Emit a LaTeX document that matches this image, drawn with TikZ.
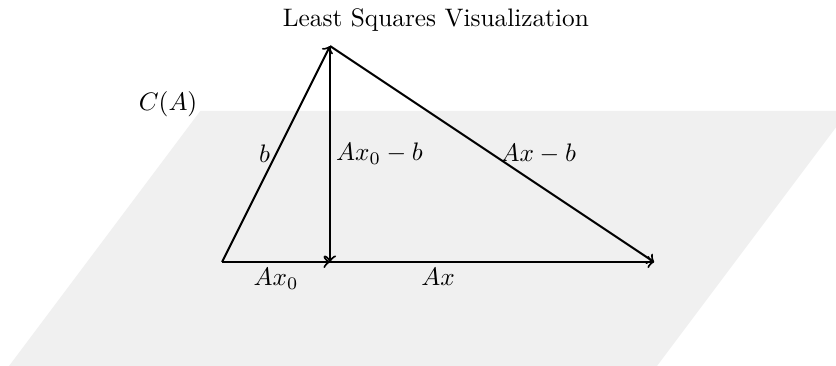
\documentclass[tikz,border=0pt]{standalone}
\usepackage{amsmath,amssymb}
\usepackage{xcolor}
\usepackage{tikz}

\begin{document}
\begin{tikzpicture}[x=1.5cm, y=1.5cm,
    plane/.style={fill=gray!12, draw=none},
    vec/.style={->, thick},
    lbl/.style={inner sep=2pt}]

    \useasboundingbox (-2.056,-0.954) rectangle (5.685,2.426);

    % column space
    \begin{scope}
        \clip (-2.056,-0.954) rectangle (5.685,2.426);
        \fill[plane] (-2,-1) -- (4,-1) -- (5.8,1.4) -- (-0.2,1.4) -- cycle;
    \end{scope}
    \node (plane) at (-0.5,1.46) {$C(A)$};

    \coordinate (O) at (0,0);
    \coordinate (b) at (1,2);
    \coordinate (p) at (1,0);
    \coordinate (q) at (4,0);

    \draw[vec] (O) -- node[lbl, left] {$b$} (b);
    \draw[vec] (b) -- node[lbl, right] {$Ax_0 - b$} (p);
    \draw[vec] (O) -- node[lbl, below] {$Ax_0$} (p);
    \draw[vec] (O) -- node[lbl, below] {$Ax$} (q);
    \draw[vec] (b) -- node[lbl, right, inner sep=3pt] {$Ax - b$} (q);

    \node (title) at (1.98,2.24) {Least Squares Visualization};
\end{tikzpicture}
\end{document}
